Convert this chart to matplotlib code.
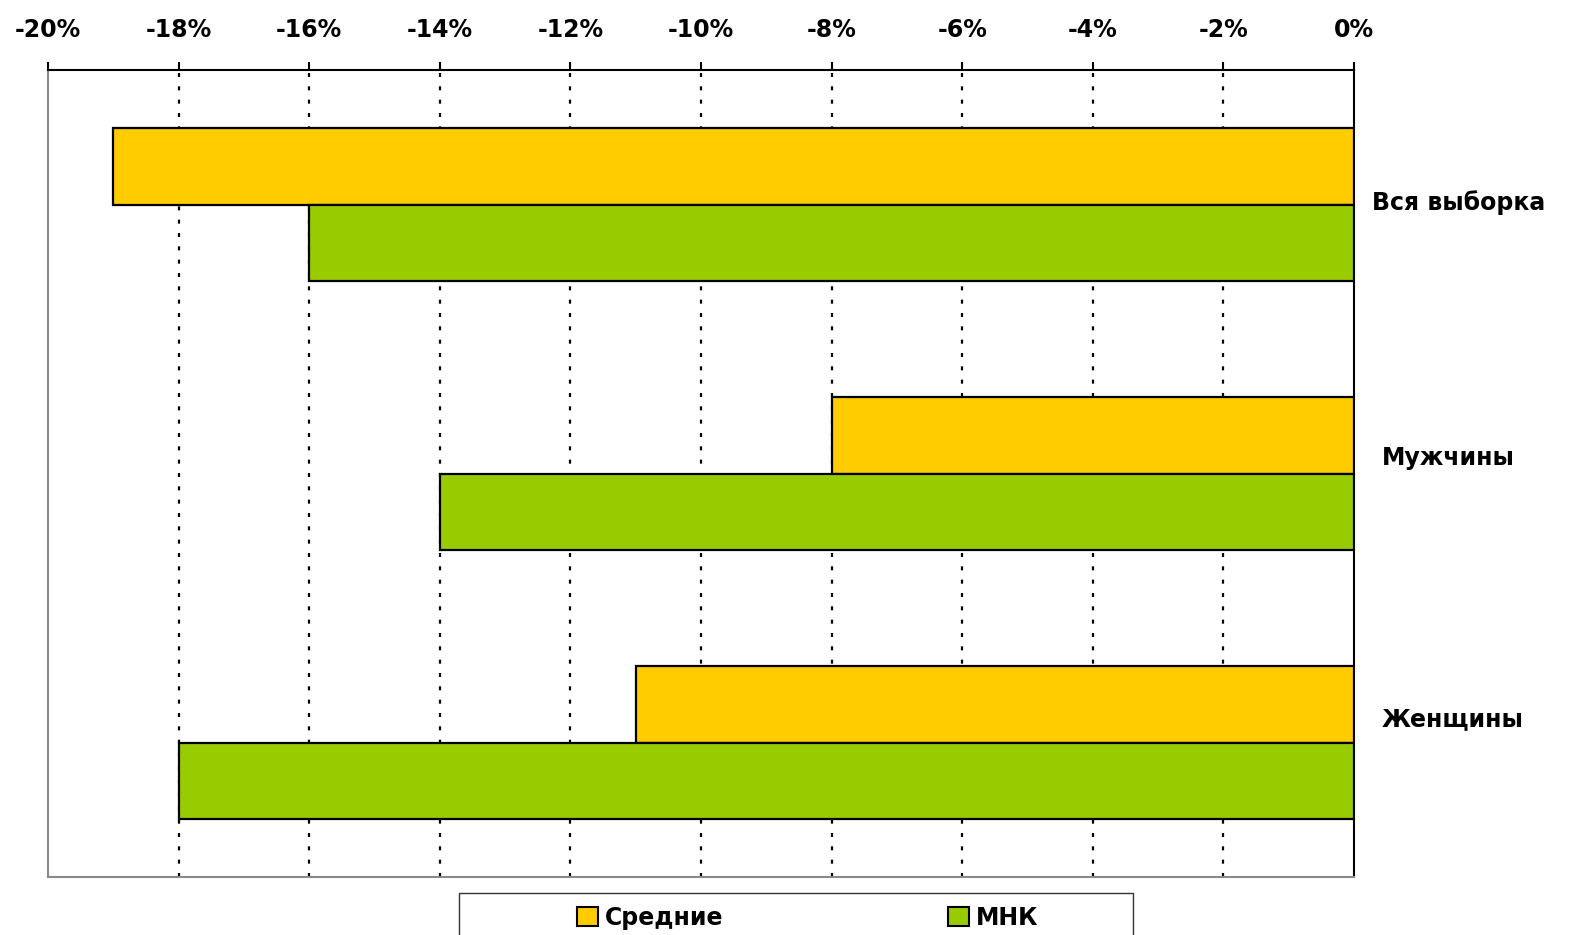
import matplotlib.pyplot as plt
import matplotlib.transforms as mtransforms
from matplotlib.patches import Rectangle, Patch
import numpy as np

plt.rcParams['font.family'] = ['DejaVu Sans']
plt.rcParams['font.weight'] = 'bold'

groups = ['Вся выборка', 'Мужчины', 'Женщины']
srednie = [-19, -8, -11]   # Средние, %
mnk = [-16, -14, -18]      # МНК, %
xticks = [-20, -18, -16, -14, -12, -10, -8, -6, -4, -2, 0]
series_names = ['Средние', 'МНК']
colors = ['#FFCC00', '#99CC00']

W, H = 1583, 935
fig = plt.figure(figsize=(W / 100, H / 100), dpi=100)
ax = fig.add_axes([48 / W, 1 - 877 / H, (1354 - 48) / W, (877 - 70) / H])

y = np.arange(len(groups))
bw = 0.285
ax.barh(y - bw / 2, srednie, height=bw, color=colors[0], edgecolor='black', linewidth=1.6, zorder=3)
ax.barh(y + bw / 2, mnk, height=bw, color=colors[1], edgecolor='black', linewidth=1.6, zorder=3)

ax.set_xlim(-20, 0)
ax.set_ylim(len(groups) - 0.5, -0.5)

# dotted grid at the inner ticks
for t in xticks[1:-1]:
    ax.axvline(t, color='black', linewidth=1.6, linestyle=(0, (1.8, 4.2)), zorder=1)

ax.set_xticks(xticks)
ax.set_xticklabels([f'{t}%' for t in xticks])
ax.xaxis.tick_top()
ax.tick_params(axis='x', direction='out', length=6, width=1.5, pad=14, labelsize=17, color='black')

ax.yaxis.tick_right()
ax.set_yticks(y)
ax.set_yticklabels(groups)
ax.tick_params(axis='y', length=0, pad=13, labelsize=17)
shifts = [(0, 3.2), (7, 13.3), (7, 18.4)]
for lab, (dx, dy) in zip(ax.get_yticklabels(), shifts):
    lab.set_horizontalalignment('left')
    lab.set_transform(lab.get_transform() + mtransforms.ScaledTranslation(dx / 72, dy / 72, fig.dpi_scale_trans))

ax.spines['top'].set_color('black')
ax.spines['right'].set_color('black')
ax.spines['left'].set_color('#8a8a8a')
ax.spines['bottom'].set_color('#8a8a8a')
for sp in ax.spines.values():
    sp.set_linewidth(1.5)

# legend box, cut by the lower edge
fig.patches.append(Rectangle((459 / W, -0.05), (1133 - 459) / W, 0.05 + 1 - 893 / H,
                             transform=fig.transFigure, facecolor='white',
                             edgecolor='#333333', linewidth=1.0))
handles = [Patch(facecolor=c, edgecolor='black', linewidth=1.5) for c in colors]
fig.legend(handles, series_names, loc='center left', bbox_to_anchor=(565 / W, 1 - 918 / H),
           ncol=2, frameon=False, borderpad=0, handlelength=0.9, handleheight=0.85,
           handletextpad=0.3, columnspacing=9.5, prop={'weight': 'bold', 'size': 17})

fig.savefig('out.png', dpi=100)
